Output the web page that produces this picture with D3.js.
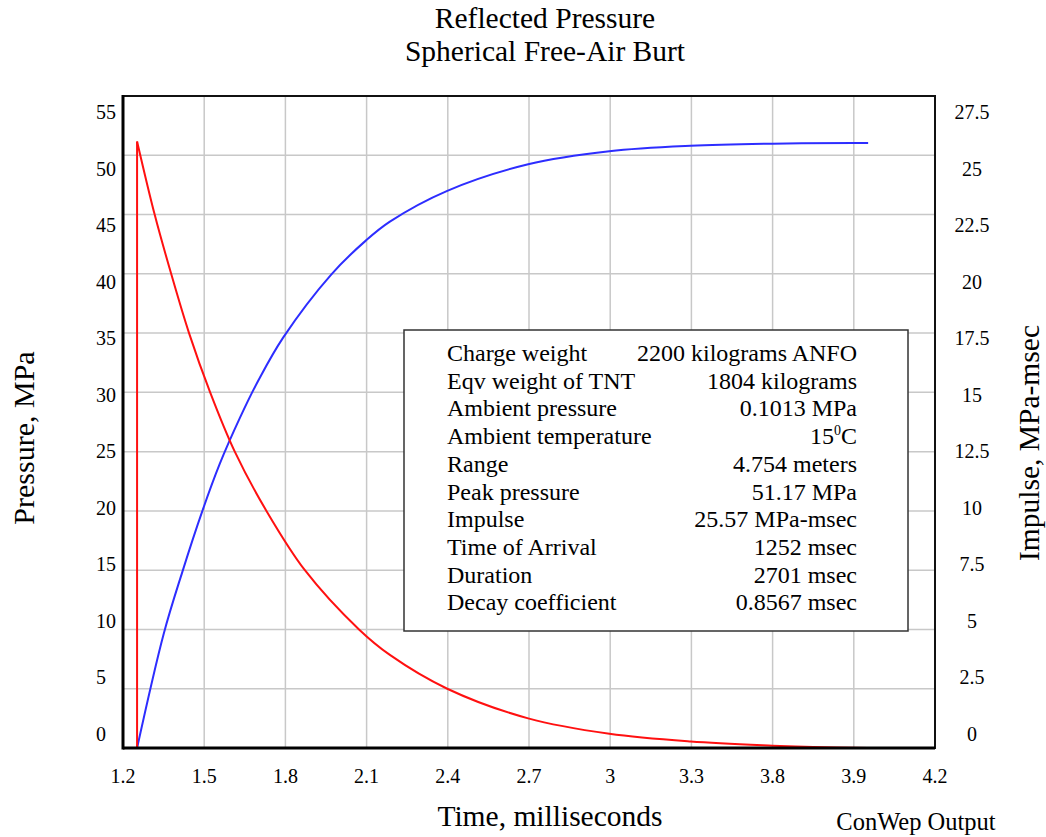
<!DOCTYPE html>
<html>
<head>
<meta charset="utf-8">
<script src="https://cdn.jsdelivr.net/npm/d3@7"></script>
<style>
  body { margin: 0; background: #fff; }
  text { font-family: "Liberation Serif", "Tinos", "Times New Roman", serif; fill: #000; }
</style>
</head>
<body>
<div id="chart"></div>
<script>
// reflected pressure (MPa) vs time (ms)
const pressureTime = [1.252, 1.252, 1.317, 1.378, 1.444, 1.522, 1.613, 1.730, 1.872, 2.072, 2.186, 2.398, 2.697, 2.997, 3.297, 3.599, 3.750, 3.953];
const pressure     = [0, 51.17, 45.0, 40.0, 35.0, 30.0, 25.0, 20.0, 15.0, 10.0, 7.85, 5.0, 2.5, 1.2, 0.55, 0.2, 0.08, 0];

// impulse (MPa-msec) vs time (ms)
const impulseTime = [1.252, 1.350, 1.419, 1.493, 1.557, 1.631, 1.700, 1.791, 1.970, 2.097, 2.186, 2.398, 2.697, 2.997, 3.297, 3.599, 3.898, 3.953];
const impulse     = [0, 4.8, 7.42, 9.99, 11.97, 13.9, 15.5, 17.3, 19.98, 21.4, 22.2, 23.5, 24.62, 25.17, 25.4, 25.49, 25.52, 25.52];

const xTicks = [1.2, 1.5, 1.8, 2.1, 2.4, 2.7, 3.0, 3.3, 3.6, 3.9, 4.2];
const xTickLabels = ["1.2", "1.5", "1.8", "2.1", "2.4", "2.7", "3", "3.3", "3.8", "3.9", "4.2"];
const yTicks = [0, 5, 10, 15, 20, 25, 30, 35, 40, 45, 50, 55];
const y2Ticks = [0, 2.5, 5, 7.5, 10, 12.5, 15, 17.5, 20, 22.5, 25, 27.5];

const infoLabels = ["Charge weight", "Eqv weight of TNT", "Ambient pressure", "Ambient temperature", "Range",
    "Peak pressure", "Impulse", "Time of Arrival", "Duration", "Decay coefficient"];
const infoValues = ["2200 kilograms ANFO", "1804 kilograms", "0.1013 MPa", "15|0|C", "4.754 meters",
    "51.17 MPa", "25.57 MPa-msec", "1252 msec", "2701 msec", "0.8567 msec"];

const W = 1046, H = 837;
const plot = { left: 123, right: 935, top: 96, bottom: 748 };

const svg = d3.select("#chart").append("svg")
    .attr("width", W)
    .attr("height", H);

const x = d3.scaleLinear().domain([1.2, 4.2]).range([plot.left, plot.right]);
const y = d3.scaleLinear().domain([0, 55]).range([plot.bottom, plot.top]);
const y2 = d3.scaleLinear().domain([0, 27.5]).range([plot.bottom, plot.top]);
// tick labels in the original sit on their own (slightly squeezed) spacing
const yLab = d3.scaleLinear().domain([0, 55]).range([734, 112]);

// grid
svg.append("g")
    .selectAll("line")
    .data(xTicks.slice(1, -1))
    .enter()
    .append("line")
    .attr("x1", d => x(d)).attr("x2", d => x(d))
    .attr("y1", plot.top).attr("y2", plot.bottom)
    .attr("stroke", "#c8c8c8")
    .attr("stroke-width", 1.5);

svg.append("g")
    .selectAll("line")
    .data(yTicks.slice(1, -1))
    .enter()
    .append("line")
    .attr("x1", plot.left).attr("x2", plot.right)
    .attr("y1", d => y(d)).attr("y2", d => y(d))
    .attr("stroke", "#c8c8c8")
    .attr("stroke-width", 1.5);

// info box
const boxX = 404, boxY = 330, boxW = 504, boxH = 301;
svg.append("rect")
    .attr("x", boxX).attr("y", boxY)
    .attr("width", boxW).attr("height", boxH)
    .attr("fill", "#fff")
    .attr("stroke", "#333")
    .attr("stroke-width", 1.5);

const rowY = i => 361 + i * 27.7;

svg.append("g")
    .selectAll("text")
    .data(infoLabels)
    .enter()
    .append("text")
    .attr("x", 447)
    .attr("y", (d, i) => rowY(i))
    .attr("font-size", 24)
    .text(d => d);

const vals = svg.append("g")
    .selectAll("text")
    .data(infoValues)
    .enter()
    .append("text")
    .attr("x", 857)
    .attr("y", (d, i) => rowY(i))
    .attr("font-size", 24)
    .attr("text-anchor", "end");

vals.each(function(d) {
    const parts = d.split("|");
    const t = d3.select(this);
    if (parts.length === 1) { t.text(d); return; }
    t.append("tspan").text(parts[0]);
    t.append("tspan").attr("font-size", 14).attr("dy", -9).text(parts[1]);
    t.append("tspan").attr("dy", 9).text(parts[2]);
});

// curves
const smooth = d3.line().curve(d3.curveCatmullRom.alpha(0.5));

svg.append("path")
    .datum(impulseTime.map((t, i) => [x(t), y2(impulse[i])]))
    .attr("d", smooth)
    .attr("fill", "none")
    .attr("stroke", "#2d2dff")
    .attr("stroke-width", 2);

const pressurePts = pressureTime.map((t, i) => [x(t), y(pressure[i])]);

// shock front: vertical jump at arrival
svg.append("path")
    .datum(pressurePts.slice(0, 2))
    .attr("d", d3.line())
    .attr("fill", "none")
    .attr("stroke", "#ff1010")
    .attr("stroke-width", 2);

svg.append("path")
    .datum(pressurePts.slice(1))
    .attr("d", smooth)
    .attr("fill", "none")
    .attr("stroke", "#ff1010")
    .attr("stroke-width", 2);

// frame
svg.append("rect")
    .attr("x", plot.left).attr("y", plot.top)
    .attr("width", plot.right - plot.left)
    .attr("height", plot.bottom - plot.top)
    .attr("fill", "none")
    .attr("stroke", "#111")
    .attr("stroke-width", 2);

svg.append("line")
    .attr("x1", plot.left).attr("x2", plot.left)
    .attr("y1", plot.top - 1).attr("y2", plot.bottom + 1.5)
    .attr("stroke", "#000").attr("stroke-width", 3);

svg.append("line")
    .attr("x1", plot.left).attr("x2", plot.right)
    .attr("y1", plot.bottom).attr("y2", plot.bottom)
    .attr("stroke", "#000").attr("stroke-width", 3);

// tick labels
svg.append("g")
    .selectAll("text")
    .data(xTicks)
    .enter()
    .append("text")
    .attr("x", d => x(d))
    .attr("y", 783)
    .attr("text-anchor", "middle")
    .attr("font-size", 20)
    .text((d, i) => xTickLabels[i]);

svg.append("g")
    .selectAll("text")
    .data(yTicks)
    .enter()
    .append("text")
    .attr("x", 96)
    .attr("y", d => yLab(d))
    .attr("dy", "0.35em")
    .attr("font-size", 20)
    .text(d => d);

svg.append("g")
    .selectAll("text")
    .data(y2Ticks)
    .enter()
    .append("text")
    .attr("x", 972)
    .attr("y", d => yLab(d * 2))
    .attr("dy", "0.35em")
    .attr("text-anchor", "middle")
    .attr("font-size", 20)
    .text(d => d);

// titles
svg.append("text")
    .attr("x", 545).attr("y", 28)
    .attr("text-anchor", "middle")
    .attr("font-size", 29.5)
    .text("Reflected Pressure");

svg.append("text")
    .attr("x", 545).attr("y", 61)
    .attr("text-anchor", "middle")
    .attr("font-size", 29.5)
    .text("Spherical Free-Air Burt");

svg.append("text")
    .attr("x", 550).attr("y", 826)
    .attr("text-anchor", "middle")
    .attr("font-size", 29.5)
    .text("Time, milliseconds");

svg.append("text")
    .attr("x", 916).attr("y", 830)
    .attr("text-anchor", "middle")
    .attr("font-size", 24.5)
    .text("ConWep Output");

svg.append("text")
    .attr("transform", "translate(34,438) rotate(-90)")
    .attr("text-anchor", "middle")
    .attr("font-size", 30)
    .text("Pressure, MPa");

svg.append("text")
    .attr("transform", "translate(1039,443) rotate(-90)")
    .attr("text-anchor", "middle")
    .attr("font-size", 29.5)
    .text("Impulse, MPa-msec");
</script>
</body>
</html>
